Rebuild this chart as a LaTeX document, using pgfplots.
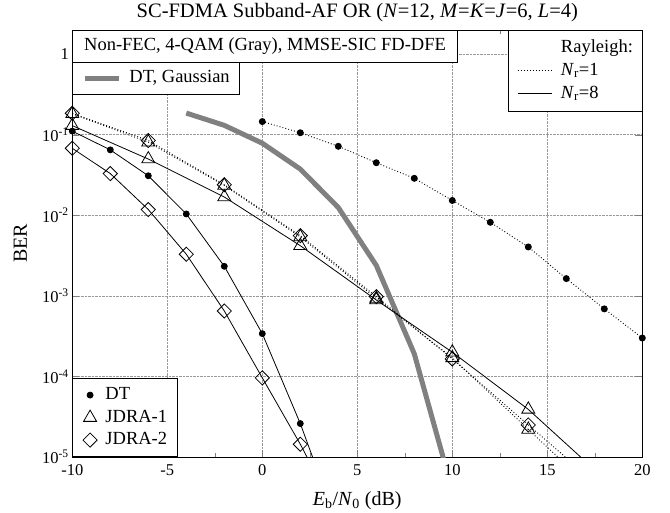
\documentclass[border=0pt]{standalone}
\usepackage{pgfplots}
\pgfplotsset{compat=1.18}
\usepackage{fontspec}
\setmainfont{Liberation Serif}
\usetikzlibrary{calc}
\definecolor{gaus}{RGB}{128,128,128}
\newcommand{\lgfont}{\fontsize{18.5}{22}\selectfont}
\newcommand{\lbfont}{\fontsize{20}{23}\selectfont}
\tikzset{dotl/.style={dash pattern=on 0.9pt off 2.1pt, line width=0.9pt}}
\begin{document}
\begin{tikzpicture}
\begin{axis}[scale only axis, width=570pt, height=427pt,
  ymode=log, xmin=-10, xmax=20, ymin=1e-5, ymax=2, name=ax,
  xtick={-10,-5,0,5,10,15,20},
  xticklabels={-10,-5,0,5,10,15,20},
  minor xtick={-7.5,-2.5,2.5,7.5,12.5,17.5},
  ytick={1e-5,1e-4,1e-3,1e-2,1e-1,1},
  yticklabels={10\textsuperscript{-5},10\textsuperscript{-4},10\textsuperscript{-3},10\textsuperscript{-2},10\textsuperscript{-1},1},
  yminorticks=false,
  tick align=inside, major tick length=7pt, minor tick length=4pt,
  ticklabel style={font=\fontsize{16.5}{18}\selectfont},
  xticklabel style={yshift=-4pt},
  grid=major, major grid style={densely dotted, gray!80, line width=0.6pt},
  axis line style={line width=0.8pt},
  title={SC-FDMA Subband-AF OR (\textit{N}=12, \textit{M}=\textit{K}=\textit{J}=6, \textit{L}=4)},
  title style={font=\fontsize{20.5}{23}\selectfont, at={(axis description cs:0.5,1)}, anchor=base, yshift=6pt},
  xlabel={\textit{E}\textsubscript{b}/\textit{N}\textsubscript{0} (dB)},
  xlabel style={font=\lbfont, at={(axis description cs:0.5,0)}, anchor=center, yshift=-44pt},
  ylabel={BER},
  ylabel style={font=\lbfont, at={(axis description cs:0,0.5)}, anchor=center, yshift=52pt},
  legend image code/.code={\path (0pt,0pt) (14pt,0pt); \draw[#1] plot coordinates {(7pt,0pt)};},
  legend style={at={(0,0)}, anchor=south west, font=\lgfont, draw=black, fill=white,
    line width=0.8pt, inner xsep=10pt, inner ysep=8pt, row sep=5.5pt, column sep=8pt,
    nodes={inner sep=0pt, text height=13pt, text depth=4pt}},
  legend cell align=left,
]
% Gaussian DT
\addplot[gaus, line width=5pt, forget plot] coordinates {(-4,0.186)(-2,0.131)(0,0.0786)(2,0.0375)(4,0.0125)(6,0.00239)(8,1.91e-4)(10,3.87e-6)};
% Nr=1 DT
\addplot[black, dotl, mark=*, mark size=3pt, mark options={solid}, forget plot] coordinates {(0,0.146)(2,0.106)(4,0.072)(6,0.045)(8,0.0288)(10,0.0153)(12,0.0082)(14,0.00405)(16,0.00164)(18,6.9e-4)(20,3.0e-4)};
% Nr=1 JDRA-1
\addplot[black, dotl, mark=triangle, mark size=7.5pt, mark options={solid, line width=0.8pt}, forget plot] coordinates {(-10,0.182)(-6,0.081)(-2,0.0235)(2,0.0054)(6,9.3e-4)(10,1.7e-4)(14,2.2e-5)};
\addplot[black, dotl, forget plot] coordinates {(14,2.2e-5)(17,4.8e-6)};
% Nr=1 JDRA-2
\addplot[black, dotl, mark=square, mark size=5pt, mark options={solid, rotate=45, line width=0.8pt}, forget plot] coordinates {(-10,0.185)(-6,0.085)(-2,0.024)(2,0.0056)(6,9.8e-4)(10,1.65e-4)(14,2.5e-5)};
\addplot[black, dotl, forget plot] coordinates {(14,2.5e-5)(17,6.1e-6)};
% Nr=8 DT
\addplot[black, line width=0.8pt, mark=*, mark size=3pt, forget plot] coordinates {(-10,0.111)(-8,0.065)(-6,0.031)(-4,0.0104)(-2,0.00233)(0,3.4e-4)(2,2.6e-5)};
\addplot[black, line width=0.8pt, forget plot] coordinates {(2,2.6e-5)(3,5.9e-6)};
% Nr=8 JDRA-1
\addplot[black, line width=0.8pt, mark=triangle, mark size=7.5pt, forget plot] coordinates {(-10,0.130)(-6,0.050)(-2,0.0169)(2,0.0042)(6,8.9e-4)(10,2.0e-4)(14,3.9e-5)};
\addplot[black, line width=0.8pt, forget plot] coordinates {(14,3.9e-5)(18,5.4e-6)};
% Nr=8 JDRA-2
\addplot[black, line width=0.8pt, mark=square, mark size=5pt, mark options={rotate=45}, forget plot] coordinates {(-10,0.068)(-8,0.033)(-6,0.0118)(-4,0.00329)(-2,6.5e-4)(0,9.6e-5)(2,1.44e-5)};
\addplot[black, line width=0.8pt, forget plot] coordinates {(2,1.44e-5)(3,5.1e-6)};
\addlegendimage{only marks, mark=*, mark size=3pt, black}
\addlegendentry{DT}
\addlegendimage{only marks, mark=triangle, mark size=7.5pt, black, line width=0.8pt}
\addlegendentry{JDRA-1}
\addlegendimage{only marks, mark=square, mark size=5pt, mark options={rotate=45}, black, line width=0.8pt}
\addlegendentry{JDRA-2}
\node[draw=black, line width=0.8pt, fill=white, anchor=north west, minimum width=384.7pt, minimum height=32pt, inner sep=0pt, font=\lgfont] at (rel axis cs:0,1) {Non-FEC, 4-QAM (Gray), MMSE-SIC FD-DFE};
\end{axis}
% Rayleigh legend
\begin{axis}[scale only axis, width=570pt, height=427pt,
  ymode=log, xmin=-10, xmax=20, ymin=1e-5, ymax=2, hide axis,
  legend image code/.code={\draw[#1] (0pt,0pt) -- (34pt,0pt);},
  legend style={at={(1,1)}, anchor=north east, font=\lgfont, draw=black, fill=white,
    line width=0.8pt, inner xsep=9pt, inner ysep=9pt, row sep=6pt, column sep=9pt,
    nodes={inner sep=0pt, text height=13pt, text depth=4pt}},
  legend cell align=left,
]
\addlegendimage{empty legend}
\addlegendentry{Rayleigh:}
\addlegendimage{black, dotl}
\addlegendentry{\textit{N}\textsubscript{r}=1}
\addlegendimage{black, line width=0.8pt}
\addlegendentry{\textit{N}\textsubscript{r}=8}
\end{axis}
% Gaussian legend
\begin{axis}[scale only axis, width=570pt, height=427pt,
  ymode=log, xmin=-10, xmax=20, ymin=1e-5, ymax=2, hide axis,
  legend image code/.code={\draw[#1] (0pt,0pt) -- (34pt,0pt);},
  legend style={at={(0,1)}, anchor=north west, yshift=-32pt, font=\lgfont, draw=black, fill=white,
    line width=0.8pt, inner xsep=9.7pt, inner ysep=7.5pt, column sep=8pt,
    nodes={inner sep=0pt, text height=13pt, text depth=4pt}},
  legend cell align=left,
]
\addlegendimage{gaus, line width=5pt}
\addlegendentry{DT, Gaussian}
\end{axis}
\pgfresetboundingbox
\path ($(ax.south west)+(-72.3pt,-56pt)$) rectangle ($(ax.north east)+(27.7pt,30pt)$);
\end{tikzpicture}
\end{document}
